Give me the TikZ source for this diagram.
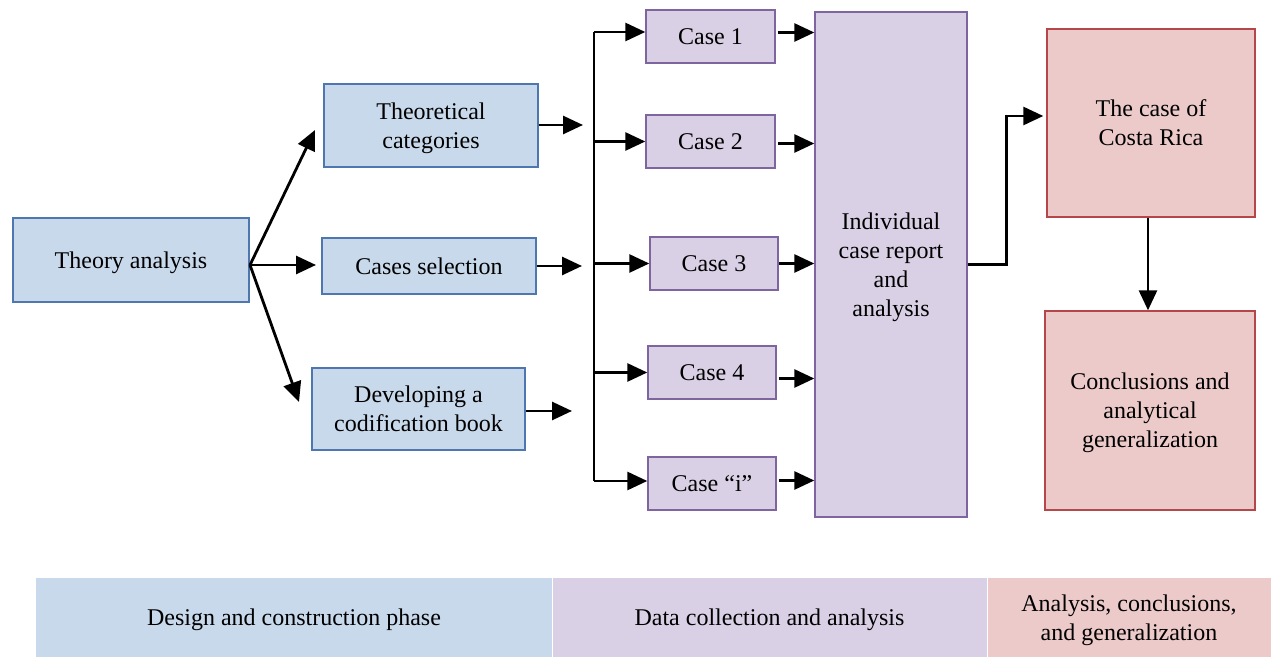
\documentclass[tikz,border=0pt]{standalone}
\usepackage{fontspec}
\setmainfont{Liberation Serif}
\usetikzlibrary{arrows.meta,calc}
\definecolor{bfill}{HTML}{C9D9EC}
\definecolor{bline}{HTML}{4E77AF}
\definecolor{pfill}{HTML}{D9D0E5}
\definecolor{pline}{HTML}{7F659F}
\definecolor{rfill}{HTML}{EDCACA}
\definecolor{rline}{HTML}{B5474A}
\begin{document}
\begin{tikzpicture}[x=0.5pt,y=-0.5pt,
  every node/.style={font=\fontsize{12}{14.5}\selectfont, align=center, inner sep=0pt, text depth=0pt},
  box/.style={draw, line width=0.7pt},
  bluebox/.style={box, fill=bfill, draw=bline},
  purbox/.style={box, fill=pfill, draw=pline},
  redbox/.style={box, fill=rfill, draw=rline},
  arr/.style={line width=1.4pt, -{Triangle[length=10pt,width=9pt]}},
  band/.style={minimum height=39.5pt}]
\useasboundingbox (0,0) rectangle (1271,657);
% design phase
\node[bluebox, minimum width=118pt, minimum height=42pt] (theory) at (131,260) {Theory analysis};
\node[bluebox, minimum width=107pt, minimum height=41.5pt] (theocat) at (431,125.5) {Theoretical\\categories};
\node[bluebox, minimum width=107pt, minimum height=28pt] (cases) at (429,266) {Cases selection};
\node[bluebox, minimum width=106.5pt, minimum height=41pt] (dev) at (418.5,409) {Developing a\\codification book};
% cases
\node[purbox, minimum width=64.5pt, minimum height=26.5pt] (c1) at (710.5,36.5) {Case 1};
\node[purbox, minimum width=64.5pt, minimum height=26.5pt] (c2) at (710.5,141.5) {Case 2};
\node[purbox, minimum width=64pt, minimum height=26.5pt] (c3) at (714,263.5) {Case 3};
\node[purbox, minimum width=64pt, minimum height=26.5pt] (c4) at (712,372.5) {Case 4};
\node[purbox, minimum width=64pt, minimum height=26.5pt] (ci) at (712,483.5) {Case ``i''};
\node[purbox, minimum width=76pt, minimum height=252.5pt] (big) at (891,264.5) {Individual\\case report\\and\\analysis};
% results
\node[redbox, minimum width=104pt, minimum height=94pt] (costa) at (1151,123) {The case of\\Costa Rica};
\node[redbox, minimum width=105pt, minimum height=99.5pt] (concl) at (1150,410.5) {Conclusions and\\analytical\\generalization};
% coordinates
\coordinate (ts) at (250,265);
\coordinate (t1) at (315,130);
\coordinate (t2) at (316,265);
\coordinate (t3) at (299,402);
\coordinate (e1) at (583,125);
\coordinate (e2) at (582,266);
\coordinate (e3) at (572,411);
\coordinate (bartop) at (594,32);
\coordinate (barbot) at (594,481);
% arrows
\draw[arr] (ts) -- (t1);
\draw[arr] (ts) -- (t2);
\draw[arr] (ts) -- (t3);
\draw[arr] (theocat.east |- e1) -- (e1);
\draw[arr] (cases.east |- e2) -- (e2);
\draw[arr] (dev.east |- e3) -- (e3);
\draw[line width=1.4pt] (bartop) -- (barbot);
\draw[arr] (bartop) -- (c1.west |- bartop);
\draw[arr] (bartop |- c2.west) -- (c2.west);
\draw[arr] (bartop |- c3.west) -- (c3.west);
\draw[arr] (bartop |- c4.west) -- (c4.west);
\draw[arr] (barbot) -- (ci.west |- barbot);
\draw[arr] ($(c1.east)+(2,-4)$) -- ($(c1.east -| big.west)+(0,-4)$);
\draw[arr] ($(c2.east)+(2,2)$) -- ($(c2.east -| big.west)+(0,2)$);
\draw[arr] (c3.east) -- (c3.east -| big.west);
\draw[arr] ($(c4.east)+(2,6)$) -- ($(c4.east -| big.west)+(0,6)$);
\draw[arr] ($(ci.east)+(2,-3)$) -- ($(ci.east -| big.west)+(0,-3)$);
\draw[arr] (big.east) -- ++(39,0) |- ($(costa.west)+(-3,-7)$);
\draw[arr] ($(costa.south)+(-3,0)$) -- ($(concl.north)+(-2,0)$);
% bottom bands
\node[band, fill=bfill, minimum width=258pt] (b1) at (294,617.5) {Design and construction phase};
\node[band, fill=pfill, minimum width=217.5pt] (b2) at (769.5,617.5) {Data collection and analysis};
\node[band, fill=rfill, minimum width=142pt] (b3) at (1129,617.5) {Analysis, conclusions,\\and generalization};
\draw[white, line width=0.5pt] (b1.north east) -- (b1.south east);
\draw[white, line width=0.5pt] (b2.north east) -- (b2.south east);
\end{tikzpicture}
\end{document}
